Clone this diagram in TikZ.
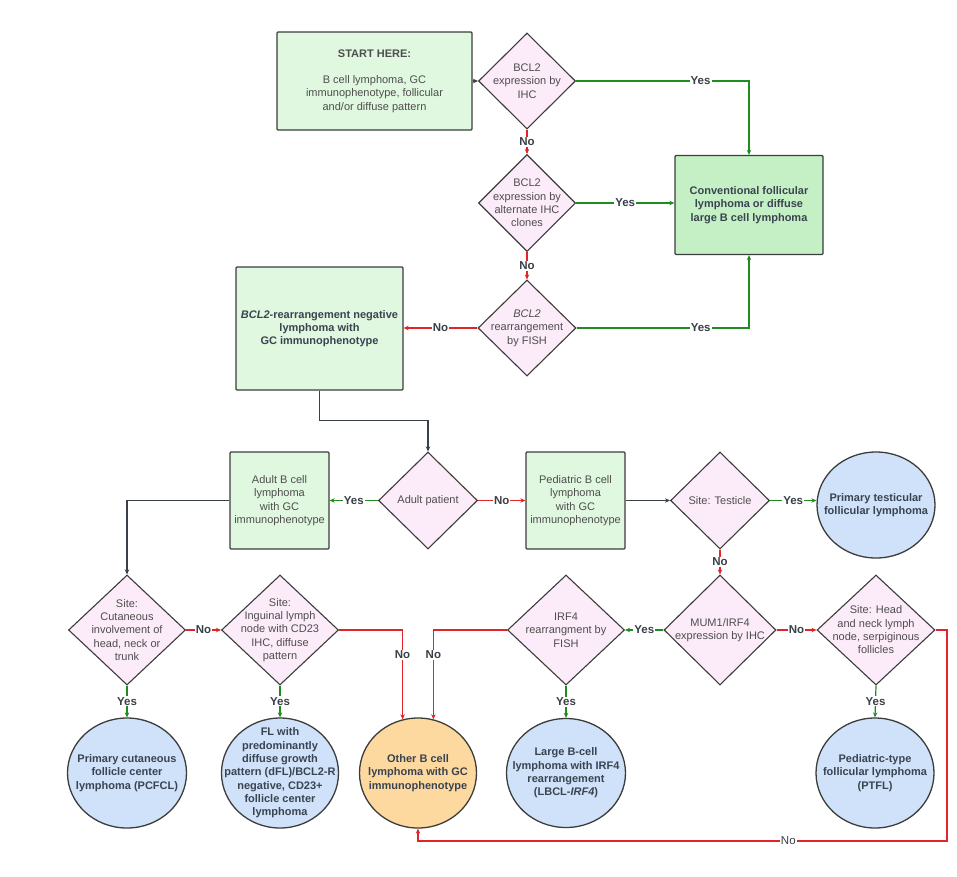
\documentclass[tikz,border=0pt]{standalone}
\usepackage{fontspec}
\setmainfont{Liberation Sans}
\usetikzlibrary{shapes.geometric,arrows.meta}
\definecolor{boxg}{HTML}{E0F7E0}
\definecolor{boxgd}{HTML}{C5F0C5}
\definecolor{dpink}{HTML}{FCEBF8}
\definecolor{eblue}{HTML}{CFE2FA}
\definecolor{eorange}{HTML}{FDD9A0}
\definecolor{edge}{HTML}{3C3C3C}
\definecolor{lgreen}{HTML}{1E8C1E}
\definecolor{lred}{HTML}{E02428}
\definecolor{ldark}{HTML}{3A4048}
\definecolor{txt}{HTML}{4E4E4E}
\definecolor{ttxt}{HTML}{3A4350}
\begin{document}
\begin{tikzpicture}[x=1pt,y=-1pt,
 font=\fontsize{11}{13.3}\selectfont,
 every node/.style={align=center},
 box/.style={draw=edge,line width=1.3pt,fill=boxg,text=txt,inner sep=2pt,rounded corners=1pt},
 dec/.style={shape=diamond,draw=edge,line width=1.1pt,fill=dpink,inner sep=0pt},
 dtext/.style={text=txt,align=center,inner sep=0pt},
 term/.style={ellipse,draw=edge,line width=1.3pt,fill=eblue,inner sep=0pt},
 ttext/.style={text=ttxt,align=center,inner sep=0pt,font=\fontsize{11}{13.3}\selectfont\bfseries},
 ar/.style={line width=1.2pt,-{Stealth[length=5pt,width=4.5pt]}},
 yesar/.style={ar,draw=lgreen},
 noar/.style={ar,draw=lred},
 plainar/.style={ar,draw=ldark},
 lab/.style={fill=white,inner sep=1pt,text=ldark,font=\fontsize{11.5}{12}\selectfont\bfseries},
 labr/.style={fill=white,inner sep=1pt,text=ldark,font=\fontsize{11.5}{12}\selectfont},
]
\path[use as bounding box] (0,0) rectangle (957,876);

% boxes
\node[box,minimum width=195pt,minimum height=98pt] (start) at (374.5,81)
 {\textbf{START HERE:}\\[13pt]B cell lymphoma, GC\\immunophenotype, follicular\\and/or diffuse pattern};
\node[box,fill=boxgd,text=ttxt,font=\fontsize{11}{13.3}\selectfont\bfseries,minimum width=148pt,minimum height=99pt] (conv) at (749,205)
 {Conventional follicular\\lymphoma or diffuse\\large B cell lymphoma};
\node[box,text=ttxt,font=\fontsize{11}{13.3}\selectfont\bfseries,minimum width=167pt,minimum height=123pt] (neg) at (319.5,328.5)
 {\textit{BCL2}-rearrangement negative\\lymphoma with\\GC immunophenotype};
\node[box,minimum width=99pt,minimum height=97pt] (adultbox) at (279.5,500.5)
 {Adult B cell\\lymphoma\\with GC\\immunophenotype};
\node[box,minimum width=99pt,minimum height=97pt] (pedbox) at (575.5,500.5)
 {Pediatric B cell\\lymphoma\\with GC\\immunophenotype};

% diamonds
\node[dec,minimum width=97pt,minimum height=96pt,label={[dtext]center:BCL2\\expression by\\IHC}] (d1) at (527,81) {};
\node[dec,minimum width=97pt,minimum height=97pt,label={[dtext]center:BCL2\\expression by\\alternate IHC\\clones}] (d2) at (527,203) {};
\node[dec,minimum width=98pt,minimum height=96pt,label={[dtext]center:\textit{BCL2}\\rearrangement\\by FISH}] (d3) at (527,328) {};
\node[dec,minimum width=99pt,minimum height=97pt,label={[dtext]center:Adult patient}] (adultd) at (428,500.5) {};
\node[dec,minimum width=99pt,minimum height=97pt,label={[dtext]center:Site: Testicle}] (testd) at (720,500.5) {};
\node[dec,minimum width=112pt,minimum height=110pt,label={[dtext]center:MUM1/IRF4\\expression by IHC}] (mum) at (720,630) {};
\node[dec,minimum width=117pt,minimum height=110pt,label={[dtext]center:IRF4\\rearrangment by\\FISH}] (irf) at (566,630) {};
\node[dec,minimum width=118pt,minimum height=110pt,label={[dtext]center:Site: Head\\and neck lymph\\node, serpiginous\\follicles}] (headd) at (876,630) {};
\node[dec,minimum width=117pt,minimum height=110pt,label={[dtext]center:Site:\\Cutaneous\\involvement of\\head, neck or\\trunk}] (cutd) at (127,630) {};
\node[dec,minimum width=117pt,minimum height=110pt,label={[dtext]center:Site:\\Inguinal lymph\\node with CD23\\IHC, diffuse\\pattern}] (ingd) at (280,630) {};

% terminals
\node[term,minimum width=118pt,minimum height=106pt,label={[ttext]center:Primary testicular\\follicular lymphoma}] (testfl) at (876,505) {};
\node[term,minimum width=119pt,minimum height=110pt,label={[ttext]center:Primary cutaneous\\follicle center\\lymphoma (PCFCL)}] (pcfcl) at (127,773) {};
\node[term,minimum width=117pt,minimum height=110pt,label={[ttext]center:FL with\\predominantly\\diffuse growth\\pattern (dFL)/BCL2-R\\negative, CD23+\\follicle center\\lymphoma}] (fl) at (280,773) {};
\node[term,fill=eorange,minimum width=117pt,minimum height=110pt,label={[ttext]center:Other B cell\\lymphoma with GC\\immunophenotype}] (other) at (418,773) {};
\node[term,minimum width=119pt,minimum height=109pt,label={[ttext]center:Large B-cell\\lymphoma with IRF4\\rearrangement\\(LBCL-\textit{IRF4})}] (lbcl) at (566,773) {};
\node[term,minimum width=118pt,minimum height=110pt,label={[ttext]center:Pediatric-type\\follicular lymphoma\\(PTFL)}] (ptfl) at (875,773) {};

% connectors
\draw[plainar] (start.east) -- (d1.west);
\draw[yesar] (d1.east) -| node[lab,pos=0.36]{Yes} (conv.north);
\draw[noar] (d1.south) -- node[lab]{No} (d2.north);
\draw[yesar] (d2.east) -- node[lab]{Yes} (d2.east -| conv.west);
\draw[noar] (d2.south) -- node[lab]{No} (d3.north);
\draw[noar] (d3.west) -- node[lab]{No} (d3.west -| neg.east);
\draw[yesar] (d3.east) -| node[lab,pos=0.36]{Yes} (conv.south);
\draw[plainar] (neg.south) -- ++(0,30) -| (adultd.north);
\draw[yesar] (adultd.west) -- node[lab]{Yes} (adultd.west -| adultbox.east);
\draw[noar] (adultd.east) -- node[lab]{No} (adultd.east -| pedbox.west);
\draw[plainar] (pedbox.east) -- (pedbox.east -| testd.west);
\draw[yesar] (testd.east) -- node[lab]{Yes} (testd.east -| testfl.west);
\draw[noar] (testd.south) -- node[lab]{No} (mum.north);
\draw[yesar] (mum.west) -- node[lab]{Yes} (irf.east);
\draw[noar] (mum.east) -- node[lab]{No} (headd.west);
\draw[yesar] (headd.south) -- node[lab]{Yes} (ptfl.north);
\draw[yesar] (irf.south) -- node[lab]{Yes} (lbcl.north);
\draw[noar] (irf.west) -| node[lab,pos=0.64]{No} (other.74);
\draw[noar] (ingd.east) -| node[lab,pos=0.64]{No} (other.106);
\draw[noar] (cutd.east) -- node[lab]{No} (ingd.west);
\draw[yesar] (cutd.south) -- node[lab]{Yes} (pcfcl.north);
\draw[yesar] (ingd.south) -- node[lab]{Yes} (fl.north);
\draw[plainar] (adultbox.west) -| (cutd.north);
\coordinate (c1) at (947,841);
\draw[noar] (headd.east) -| (c1) -| node[labr,pos=0.15]{No} (other.south);
\end{tikzpicture}
\end{document}
